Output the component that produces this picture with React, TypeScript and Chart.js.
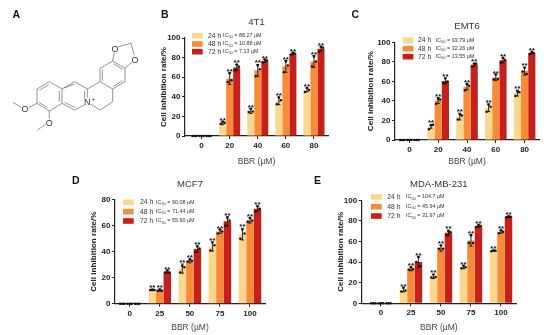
import React, { useEffect, useRef } from "react";
import { Chart, registerables } from "chart.js";

Chart.register(...registerables);

const seriesNames = ["24 h", "48 h", "72 h"];
const seriesColors = ["#FBD88E", "#F98B38", "#C5201A"];

// ---- 4T1
const ticks4T1 = ["0", "20", "40", "60", "80"];
const mean4T1_24 = [0, 13, 25.5, 36, 47];
const mean4T1_48 = [0, 58.5, 67, 71, 76];
const mean4T1_72 = [0, 70, 76.5, 84, 89];
const err4T1_24 = [0, 1.5, 2.5, 4, 2];
const err4T1_48 = [0, 6, 6, 6, 6];
const err4T1_72 = [0, 3, 1.5, 1, 2];
const dots4T1_24 = [[0, 0, 0], [12.5, 14.5, 13.5], [24.5, 27.5, 25], [32.5, 39, 36.5], [45, 49, 47]];
const dots4T1_48 = [[0, 0, 0], [55, 64, 57], [61, 72, 68], [65, 76, 72], [71, 81, 76]];
const dots4T1_72 = [[0, 0, 0], [67, 73, 71], [75, 78, 77], [83, 85, 84], [86, 91, 90]];
const ic4T1 = ["88.27", "10.88", "7.13"];

// ---- EMT6
const ticksEMT6 = ["0", "20", "40", "60", "80"];
const meanEMT6_24 = [0, 14, 24, 33, 48];
const meanEMT6_48 = [0, 40.5, 54.5, 64, 70.5];
const meanEMT6_72 = [0, 60.5, 77, 81.5, 89];
const errEMT6_24 = [0, 2, 3.5, 4, 3];
const errEMT6_48 = [0, 3, 3, 3, 4];
const errEMT6_72 = [0, 3, 1.5, 2.5, 1];
const dotsEMT6_24 = [[0, 0, 0], [11, 15, 15.5], [21, 26, 25], [29, 36, 34], [45, 50, 49]];
const dotsEMT6_48 = [[0, 0, 0], [37, 42, 41.5], [51, 57, 55.5], [62, 67, 62.5], [70, 74, 67.5]];
const dotsEMT6_72 = [[0, 0, 0], [58, 63, 60], [75, 78, 78], [79, 84, 82], [88, 90, 89]];
const icEMT6 = ["93.79", "32.26", "13.55"];

// ---- MCF7
const ticksMCF7 = ["0", "25", "50", "75", "100"];
const meanMCF7_24 = [0, 10.5, 27, 44, 53.5];
const meanMCF7_48 = [0, 10.5, 33, 55.5, 64];
const meanMCF7_72 = [0, 24.5, 42, 63.5, 73];
const errMCF7_24 = [0, 0.5, 3.5, 3.5, 4.5];
const errMCF7_48 = [0, 0.8, 1.5, 1.5, 2];
const errMCF7_72 = [0, 1, 2.5, 3.5, 2];
const dotsMCF7_24 = [[0, 0, 0], [10.5, 11, 10.5], [24, 29, 28], [41, 47, 45], [50, 57, 54]];
const dotsMCF7_48 = [[0, 0, 0], [10, 11, 10], [32.5, 34, 33], [54, 57, 55.5], [63, 66, 64]];
const dotsMCF7_72 = [[0, 0, 0], [24, 25.5, 24], [39.5, 44, 42.5], [60, 66, 64], [71, 75, 73]];
const icMCF7 = ["90.08", "71.44", "55.90"];

// ---- MDA-MB-231
const ticksMDA = ["0", "25", "50", "75", "100"];
const meanMDA_24 = [0, 13, 26, 35, 51];
const meanMDA_48 = [0, 33.5, 53.5, 61, 69.5];
const meanMDA_72 = [0, 40, 68.5, 75, 84];
const errMDA_24 = [0, 2, 2, 1.5, 0.5];
const errMDA_48 = [0, 2, 3, 5.5, 1.5];
const errMDA_72 = [0, 5, 2.5, 1, 0.5];
const dotsMDA_24 = [[0, 0, 0], [11.5, 15, 12.5], [25, 28, 25.5], [34, 36.5, 35], [50.5, 51.5, 51]];
const dotsMDA_48 = [[0, 0, 0], [32.5, 35, 33], [53, 56, 53], [58.5, 66, 58.5], [68, 71, 69.5]];
const dotsMDA_72 = [[0, 0, 0], [40, 45, 36], [66, 70, 69], [74, 76, 75], [83.5, 84.5, 84]];
const icMDA = ["104.7", "45.94", "31.97"];

const FONT = "'Liberation Sans', Arial, sans-serif";
const INK = "#222222";

type Panel = {
  letter: string; title: string; ticks: string[];
  means: number[][]; errs: number[][]; dots: number[][][]; ic: string[];
  yMax: number; yStep: number;
  axisX: number; right: number; y0: number; yTop: number; xMin: number;
  canvasL: number; canvasT: number; canvasB: number; titleGap: number;
  letterX: number; letterY: number;
  boxX: number; boxYs: number[]; textX: number; icX: number;
};

const panels: Panel[] = [
  {
    letter: "B", title: "4T1", ticks: ticks4T1,
    means: [mean4T1_24, mean4T1_48, mean4T1_72], errs: [err4T1_24, err4T1_48, err4T1_72],
    dots: [dots4T1_24, dots4T1_48, dots4T1_72], ic: ic4T1, yMax: 100, yStep: 20,
    axisX: 185, right: 328, y0: 136, yTop: 38, xMin: -0.59,
    canvasL: 156, canvasT: 8, canvasB: 168, titleGap: 10,
    letterX: 161, letterY: 14.3, boxX: 192, boxYs: [35.7, 44, 51.7], textX: 208, icX: 223,
  },
  {
    letter: "C", title: "EMT6", ticks: ticksEMT6,
    means: [meanEMT6_24, meanEMT6_48, meanEMT6_72], errs: [errEMT6_24, errEMT6_48, errEMT6_72],
    dots: [dotsEMT6_24, dotsEMT6_48, dotsEMT6_72], ic: icEMT6, yMax: 100, yStep: 20,
    axisX: 395, right: 539, y0: 140, yTop: 42.3, xMin: -0.5,
    canvasL: 363, canvasT: 8, canvasB: 168, titleGap: 10,
    letterX: 351.5, letterY: 14.3, boxX: 402.7, boxYs: [40.3, 48.7, 56.7], textX: 418, icX: 435.7,
  },
  {
    letter: "D", title: "MCF7", ticks: ticksMCF7,
    means: [meanMCF7_24, meanMCF7_48, meanMCF7_72], errs: [errMCF7_24, errMCF7_48, errMCF7_72],
    dots: [dotsMCF7_24, dotsMCF7_48, dotsMCF7_72], ic: icMCF7, yMax: 80, yStep: 20,
    axisX: 115, right: 265.3, y0: 303.7, yTop: 199.7, xMin: -0.49,
    canvasL: 86, canvasT: 170, canvasB: 334, titleGap: 10,
    letterX: 72, letterY: 180.3, boxX: 123, boxYs: [202.3, 211.7, 221], textX: 140, icX: 156,
  },
  {
    letter: "E", title: "MDA-MB-231", ticks: ticksMDA,
    means: [meanMDA_24, meanMDA_48, meanMDA_72], errs: [errMDA_24, errMDA_48, errMDA_72],
    dots: [dotsMDA_24, dotsMDA_48, dotsMDA_72], ic: icMDA, yMax: 100, yStep: 20,
    axisX: 361.7, right: 516, y0: 303.3, yTop: 200.3, xMin: -0.64,
    canvasL: 333, canvasT: 170, canvasB: 334, titleGap: 10,
    letterX: 314, letterY: 180.3, boxX: 371, boxYs: [197, 206.7, 216], textX: 387.3, icX: 406,
  },
];

const SERIES_OFFSET = [-0.25, 0, 0.25];
const JITTER = [-0.07, 0, 0.07];

function marksPlugin(p: Panel) {
  return {
    id: "marks" + p.letter,
    afterDatasetsDraw(chart: any) {
      const { ctx, scales } = chart;
      const xs = scales.x, ys = scales.y;
      ctx.save();
      ctx.strokeStyle = "#111";
      ctx.fillStyle = "#111";
      ctx.lineWidth = 0.9;
      p.means.forEach((vals, s) => {
        vals.forEach((m, i) => {
          if (i === 0) return;
          const e = p.errs[s][i];
          const px = xs.getPixelForValue(i + SERIES_OFFSET[s]);
          const hi = ys.getPixelForValue(m + e);
          const lo = ys.getPixelForValue(m - e);
          ctx.beginPath();
          ctx.moveTo(px, lo); ctx.lineTo(px, hi);
          ctx.moveTo(px - 1.6, hi); ctx.lineTo(px + 1.6, hi);
          ctx.moveTo(px - 1.6, lo); ctx.lineTo(px + 1.6, lo);
          ctx.stroke();
          ctx.font = `bold 8px ${FONT}`;
          ctx.textAlign = "center";
          ctx.textBaseline = "alphabetic";
          ctx.fillText("**", px, hi + 1);
        });
      });
      ctx.restore();
    },
    afterDraw(chart: any) {
      const { ctx } = chart;
      const cl = p.canvasL, ct = p.canvasT;
      ctx.save();
      seriesNames.forEach((name, s) => {
        const cy = p.boxYs[s] - ct;
        ctx.fillStyle = seriesColors[s];
        ctx.fillRect(p.boxX - cl, cy - 2.8, 10.7, 5.6);
        ctx.fillStyle = "#333";
        ctx.textBaseline = "middle";
        ctx.textAlign = "left";
        ctx.font = `6.8px ${FONT}`;
        ctx.fillText(name, p.textX - cl, cy);
        let x = p.icX - cl;
        ctx.font = `5.4px ${FONT}`;
        ctx.fillText("IC", x, cy);
        x += ctx.measureText("IC").width;
        ctx.font = `4px ${FONT}`;
        ctx.fillText("50", x, cy + 1.5);
        x += ctx.measureText("50").width;
        ctx.font = `5.4px ${FONT}`;
        ctx.fillText(` = ${p.ic[s]} µM`, x, cy);
      });
      ctx.restore();
    },
  };
}

function PanelChart({ p }: { p: Panel }) {
  const ref = useRef<HTMLCanvasElement | null>(null);
  const width = p.right - p.canvasL + 6;
  const height = p.canvasB - p.canvasT;
  const titleFontSize = 9.5;
  const titleLine = titleFontSize * 1.2;
  useEffect(() => {
    if (!ref.current) return;
    const barSets = p.means.map((vals, s) => ({
      type: "bar" as const,
      label: seriesNames[s],
      data: vals.map((y, i) => ({ x: i, y })),
      backgroundColor: seriesColors[s],
      barPercentage: 1,
      categoryPercentage: 0.75,
      order: 2,
    }));
    const dotSets = p.dots.map((rows, s) => ({
      type: "scatter" as const,
      label: seriesNames[s] + " replicates",
      data: rows.flatMap((reps, i) =>
        reps.map((y, k) => ({ x: i + SERIES_OFFSET[s] + JITTER[k], y }))
      ),
      backgroundColor: "#111",
      borderColor: "#111",
      pointRadius: 1.25,
      pointBorderWidth: 0,
      showLine: false,
      order: 1,
      clip: false,
    }));
    const chart = new Chart(ref.current, {
      type: "bar",
      data: { datasets: [...barSets, ...dotSets] as any },
      plugins: [marksPlugin(p)],
      options: {
        animation: false,
        responsive: false,
        maintainAspectRatio: false,
        events: [],
        layout: { padding: { left: 0, right: 6, top: 0, bottom: 0 } },
        plugins: {
          legend: { display: false },
          tooltip: { enabled: false },
          title: {
            display: true,
            text: p.title,
            fullSize: false,
            color: "#333",
            font: { family: FONT, size: titleFontSize, weight: "normal", lineHeight: 1.2 },
            padding: {
              top: p.yTop - p.canvasT - titleLine - p.titleGap,
              bottom: p.titleGap,
            },
          },
        },
        scales: {
          x: {
            type: "linear",
            offset: false,
            min: p.xMin,
            max: 4.5,
            afterBuildTicks(scale: any) {
              scale.ticks = p.ticks.map((_, i) => ({ value: i }));
            },
            afterFit(scale: any) {
              scale.height = p.canvasB - p.y0;
            },
            grid: {
              display: true, offset: false, drawOnChartArea: false, drawTicks: true,
              tickLength: 3, color: "#222", lineWidth: 1,
            },
            border: { display: true, color: "#222", width: 1.2 },
            ticks: {
              autoSkip: false, maxRotation: 0, padding: 2,
              color: INK,
              font: { family: FONT, size: 8, weight: "bold" },
              callback: (v: any) => p.ticks[Number(v)] ?? "",
            },
            title: {
              display: true, text: "BBR (µM)", color: "#444",
              font: { family: FONT, size: 8.5, weight: "normal", lineHeight: 1.2 },
              padding: { top: 2, bottom: 1 },
            },
          },
          y: {
            type: "linear",
            min: 0,
            max: p.yMax,
            afterFit(scale: any) {
              scale.width = p.axisX - p.canvasL;
            },
            grid: {
              display: true, drawOnChartArea: false, drawTicks: true,
              tickLength: 3, color: "#222", lineWidth: 1,
            },
            border: { display: true, color: "#222", width: 1.2 },
            ticks: {
              stepSize: p.yStep, padding: 1.5,
              color: INK,
              font: { family: FONT, size: 8, weight: "bold" },
            },
            title: {
              display: true, text: "Cell inhibition rate/%", color: INK,
              font: { family: FONT, size: 8.1, weight: "bold", lineHeight: 1.2 },
              padding: { top: 3, bottom: 2 },
            },
          },
        },
      } as any,
    });
    return () => chart.destroy();
  }, []);
  return (
    <canvas
      ref={ref}
      width={width}
      height={height}
      style={{ position: "absolute", left: p.canvasL, top: p.canvasT, width, height }}
    />
  );
}

// Chemical structure of berberine (panel A)
const bonds: number[][] = [
  [148, 245, 186, 267], [186, 267, 186, 310], [186, 310, 148, 333], [148, 333, 111, 310], [111, 310, 111, 267], [111, 267, 148, 245],
  [146, 254, 118, 271], [178, 272, 178, 305], [142, 323, 117, 307],
  [186, 267, 224, 245], [224, 245, 262, 267], [262, 267, 262, 293], [254, 315, 224, 330], [224, 330, 186, 310],
  [192, 264, 224, 252], [224, 322, 194, 307], [254, 272, 254, 296],
  [262, 267, 300, 245], [272, 312, 300, 330], [300, 330, 338, 305], [338, 305, 338, 267], [338, 267, 300, 245],
  [300, 245, 300, 205], [300, 205, 338, 183], [338, 183, 375, 205], [375, 205, 375, 245], [375, 245, 338, 267],
  [307, 242, 307, 209], [340, 191, 368, 208], [368, 242, 340, 259],
  [338, 183, 343, 157], [355, 140, 393, 130], [393, 130, 403, 166], [395, 187, 375, 205],
  [111, 310, 87, 322], [64, 322, 38, 307],
  [148, 333, 148, 356], [137, 373, 112, 390],
];
const atoms = [
  { t: "O", x: 345, y: 147 }, { t: "O", x: 405, y: 178 }, { t: "O", x: 75, y: 327 }, { t: "O", x: 148, y: 367 }, { t: "N", x: 262, y: 305 },
];

function Structure() {
  return (
    <svg width={550} height={335} style={{ position: "absolute", left: 0, top: 0, zIndex: 2, pointerEvents: "none" }}>
      <text x={12.5} y={18.3} fontFamily={FONT} fontWeight="bold" fontSize={10.5} fill="#111">A</text>
      {panels.map((p) => (
        <text key={p.letter} x={p.letterX} y={p.letterY + 3.8} fontFamily={FONT} fontWeight="bold" fontSize={10.5} fill="#111">{p.letter}</text>
      ))}
      {bonds.map((b, i) => (
        <line key={i} x1={b[0] / 3} y1={b[1] / 3} x2={b[2] / 3} y2={b[3] / 3} stroke="#666" strokeWidth={0.7} />
      ))}
      {atoms.map((a, i) => (
        <text key={i} x={a.x / 3} y={a.y / 3 + 3.2} textAnchor="middle" fontFamily={FONT} fontSize={9} fill="#333">{a.t}</text>
      ))}
      <text x={280 / 3} y={101} textAnchor="middle" fontFamily={FONT} fontSize={6} fill="#333">+</text>
    </svg>
  );
}

export default function App() {
  return (
    <div style={{ position: "fixed", left: 0, top: 0, width: 550, height: 335, background: "#fff", overflow: "hidden" }}>
      <Structure />
      {panels.map((p) => (
        <PanelChart key={p.letter} p={p} />
      ))}
    </div>
  );
}
